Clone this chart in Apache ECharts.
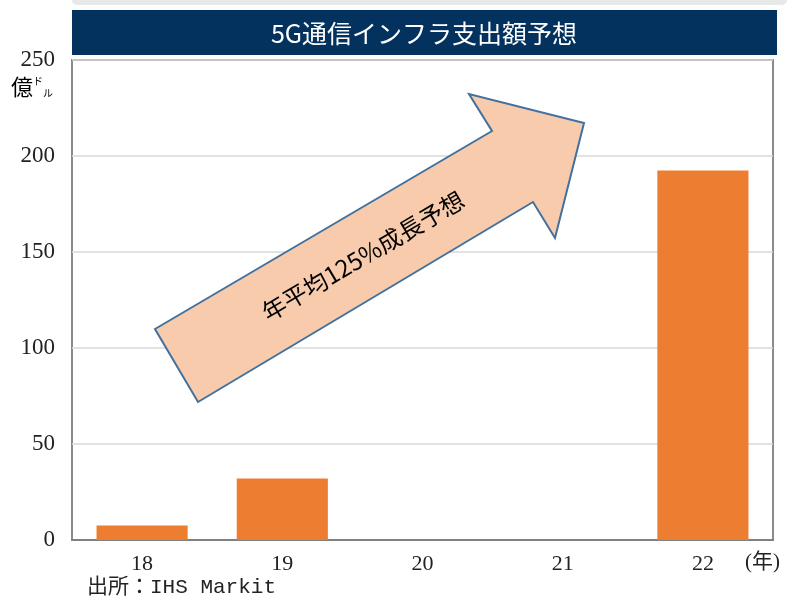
<!DOCTYPE html>
<html><head><meta charset="utf-8">
<script src="https://cdn.jsdelivr.net/npm/echarts@6/dist/echarts.min.js"></script>
<style>html,body{margin:0;padding:0;background:#fff}#c{width:787px;height:597px}</style>
</head><body><div id="c"></div>
<script>
const categories = ['18', '19', '20', '21', '22'];
const spending = [7.5, 32, 0, 0, 192.5];
const yTicks = [0, 50, 100, 150, 200, 250];
const titleText = '5G通信インフラ支出額予想';
const arrowText = '年平均125%成長予想';
const sourceText = '出所：IHS Markit';

const serif = '"Liberation Serif","DejaVu Serif",serif';
const cjk = '"Noto Sans CJK JP","Noto Sans",sans-serif';
const chart = echarts.init(document.getElementById('c'));
chart.setOption({
  animation: false,
  backgroundColor: '#fff',
  grid: { left: 72, right: 14, top: 60, bottom: 57, show: true, borderColor: '#8a8a8a', borderWidth: 2, backgroundColor: 'transparent' },
  xAxis: {
    type: 'category', data: categories,
    axisLine: { show: true, lineStyle: { color: '#808080', width: 2 } },
    axisTick: { show: false },
    axisLabel: { fontFamily: serif, fontSize: 22, color: '#222', margin: 13 }
  },
  yAxis: {
    type: 'value', min: yTicks[0], max: yTicks[yTicks.length - 1], interval: 50,
    axisLine: { show: false }, axisTick: { show: false },
    splitLine: { lineStyle: { color: '#d9d9d9', width: 1.5 } },
    axisLabel: { fontFamily: serif, fontSize: 23, color: '#222', margin: 17 }
  },
  series: [{
    type: 'bar', data: spending, barCategoryGap: '35%',
    itemStyle: { color: '#ED7D31' }, z: 2
  }],
  graphic: [
    { type: 'rect', left: 72, top: 0, shape: { width: 715, height: 5, r: [0, 0, 6, 6] }, style: { fill: '#e8e8e8' } },
    { type: 'rect', left: 72, top: 10, shape: { width: 705, height: 45 }, style: { fill: '#03325f' } },
    { type: 'text', x: 424, y: 33, style: { text: titleText, fill: '#fff', font: '25px ' + cjk, textAlign: 'center', textVerticalAlign: 'middle' } },
    { type: 'text', x: 11, y: 76, style: {
        text: '{a|億}{b|ド}{c|ル}', textVerticalAlign: 'top',
        rich: { a: { fontFamily: cjk, fontSize: 22, color: '#222' }, b: { fontFamily: cjk, fontSize: 10, color: '#222', verticalAlign: 'top', padding: [0, 0, 8, 0] }, c: { fontFamily: cjk, fontSize: 10, color: '#222', verticalAlign: 'bottom', padding: [8, 0, 0, 0] } } } },
    { type: 'polygon', z: 10, shape: { points: [[155, 329], [492, 131], [469, 94], [584, 123], [555, 238], [533, 202], [198, 402]] },
      style: { fill: '#F8CBAD', stroke: '#41719C', lineWidth: 2 } },
    { type: 'text', z: 11, x: 363, y: 256, rotation: 30.5 * Math.PI / 180,
      style: { text: arrowText, fill: '#000', font: '24px ' + cjk, textAlign: 'center', textVerticalAlign: 'middle' } },
    { type: 'text', x: 745, y: 562, style: { text: '(年)', fill: '#222', font: '21px ' + serif + ',"Noto Sans CJK JP"', textVerticalAlign: 'middle' } },
    { type: 'text', x: 87, y: 587, style: { text: sourceText, fill: '#222', font: '21px "Liberation Mono","Noto Sans CJK JP",monospace', textVerticalAlign: 'middle' } }
  ]
});
</script></body></html>
